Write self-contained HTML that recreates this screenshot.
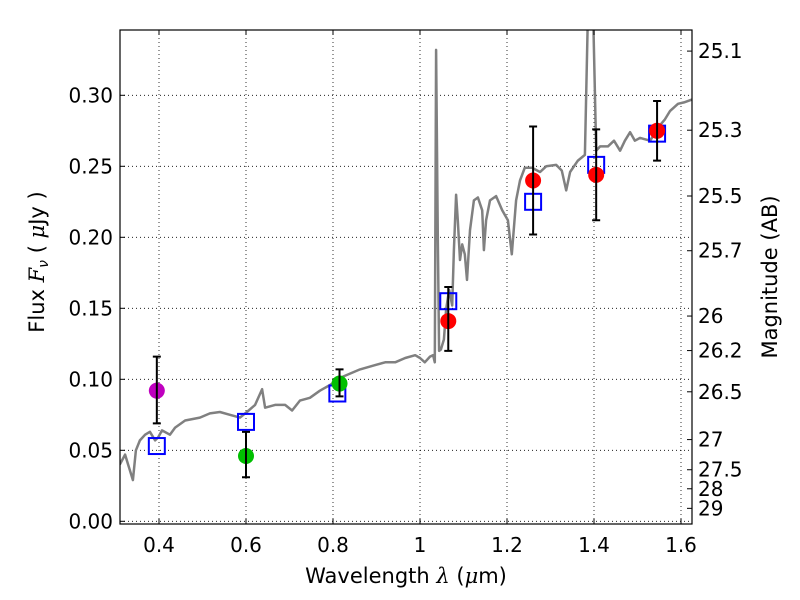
<!DOCTYPE html>
<html><head><meta charset="utf-8"><style>
body{margin:0;background:#fff}
svg{display:block;font-family:"DejaVu Sans","Liberation Sans",sans-serif}
</style></head><body>
<svg id="chart" width="800" height="600" viewBox="0 0 800 600">
<rect width="800" height="600" fill="#fff"/>
<defs><clipPath id="clip"><rect x="120" y="30" width="572" height="494"/></clipPath></defs>
<g id="grid"></g>
<g id="spec" clip-path="url(#clip)"></g>
<g id="marks"></g>
<rect x="120" y="30" width="572" height="494" fill="none" stroke="#000" stroke-width="1.2"/>
<g id="axes"></g>
<text x="406" y="583" font-size="21" text-anchor="middle">Wavelength  <tspan font-style="italic" font-family="DejaVu Serif,serif">λ</tspan> (<tspan font-style="italic" font-family="DejaVu Serif,serif">μ</tspan>m)</text>
<text transform="translate(44,262) rotate(-90)" font-size="21" text-anchor="middle">Flux  <tspan font-style="italic" font-family="DejaVu Serif,serif">F</tspan><tspan font-style="italic" font-size="14" dy="4">ν</tspan><tspan dy="-4">  ( </tspan><tspan font-style="italic" font-family="DejaVu Serif,serif">μ</tspan>Jy )</text>
<text transform="translate(777,277) rotate(-90)" font-size="21" text-anchor="middle">Magnitude (AB)</text>
</svg>
<script>
const xTicks=[0.4,0.6,0.8,1.0,1.2,1.4,1.6];
const xTickLabels=["0.4","0.6","0.8","1","1.2","1.4","1.6"];
const yTicks=[0,0.05,0.10,0.15,0.20,0.25,0.30];
const yTickLabels=["0.00","0.05","0.10","0.15","0.20","0.25","0.30"];
const magTicks=[25.1,25.3,25.5,25.7,26,26.2,26.5,27,27.5,28,29];
const magTickLabels=["25.1","25.3","25.5","25.7","26","26.2","26.5","27","27.5","28","29"];
const specWl=[0.310,0.322,0.329,0.340,0.347,0.356,0.368,0.379,0.391,0.398,0.407,0.425,0.437,0.460,0.494,0.517,0.540,0.563,0.586,0.602,0.621,0.637,0.644,0.667,0.690,0.706,0.724,0.747,0.770,0.793,0.816,0.839,0.862,0.897,0.920,0.943,0.966,0.989,1.000,1.011,1.023,1.030,1.034,1.037,1.041,1.044,1.048,1.055,1.060,1.067,1.074,1.078,1.083,1.087,1.092,1.097,1.103,1.108,1.115,1.124,1.133,1.143,1.147,1.152,1.161,1.175,1.189,1.202,1.211,1.221,1.230,1.241,1.257,1.276,1.290,1.313,1.326,1.336,1.345,1.363,1.379,1.389,1.395,1.405,1.414,1.432,1.446,1.460,1.471,1.483,1.494,1.506,1.529,1.552,1.563,1.575,1.593,1.607,1.625];
const specFlux=[0.040,0.047,0.040,0.029,0.050,0.057,0.061,0.063,0.057,0.059,0.064,0.061,0.066,0.071,0.073,0.076,0.077,0.075,0.073,0.077,0.082,0.093,0.080,0.082,0.082,0.078,0.085,0.087,0.092,0.096,0.101,0.104,0.107,0.110,0.112,0.112,0.115,0.117,0.115,0.112,0.116,0.117,0.112,0.332,0.200,0.120,0.121,0.128,0.149,0.163,0.152,0.191,0.230,0.212,0.184,0.195,0.188,0.170,0.205,0.226,0.228,0.219,0.191,0.212,0.226,0.229,0.219,0.212,0.188,0.226,0.240,0.249,0.249,0.246,0.250,0.251,0.247,0.233,0.246,0.254,0.258,0.400,0.400,0.261,0.264,0.264,0.268,0.261,0.268,0.274,0.268,0.270,0.268,0.279,0.283,0.289,0.294,0.295,0.297];
const modelWl=[0.395,0.600,0.810,1.065,1.260,1.405,1.545];
const modelFlux=[0.053,0.070,0.090,0.155,0.225,0.251,0.273];
const obsWl=[0.395,0.600,0.815,1.065,1.260,1.405,1.545];
const obsFlux=[0.092,0.046,0.097,0.141,0.240,0.244,0.275];
const obsLo=[0.069,0.031,0.088,0.120,0.202,0.212,0.254];
const obsHi=[0.116,0.063,0.107,0.165,0.278,0.276,0.296];
const obsColors=["#bf00bf","#00bf00","#00bf00","#ff0000","#ff0000","#ff0000","#ff0000"];

const NS="http://www.w3.org/2000/svg";
const X=v=>159+(v-0.4)*435;
const Y=v=>521.3-v*1420;
const magToFlux=m=>Math.pow(10,(23.9-m)/2.5);
function el(tag,attrs,parent,txt){const e=document.createElementNS(NS,tag);for(const k in attrs)e.setAttribute(k,attrs[k]);if(txt!==undefined)e.textContent=txt;parent.appendChild(e);return e;}
const grid=document.getElementById('grid'),axes=document.getElementById('axes'),spec=document.getElementById('spec'),marks=document.getElementById('marks');

xTicks.forEach((t,i)=>{
  const x=X(t);
  const g=el('line',{x1:x,x2:x,y1:30,y2:524,stroke:'#000','stroke-width':0.8,'stroke-dasharray':'1,3'},grid);
  
  
  const tk=el('path',{d:`M${x},524v-5M${x},30v5`,stroke:'#000','stroke-width':1},axes);
  
  
  const lb=el('text',{x:x,y:552,'font-size':20,'text-anchor':'middle'},axes,xTickLabels[i]);
  
  
});
yTicks.forEach((t,i)=>{
  const y=Y(t);
  const g=el('line',{x1:120,x2:692,y1:y,y2:y,stroke:'#000','stroke-width':0.8,'stroke-dasharray':'1,3'},grid);
  
  
  const tk=el('path',{d:`M120,${y}h5`,stroke:'#000','stroke-width':1},axes);
  
  
  const lb=el('text',{x:113,y:y+7,'font-size':20,'text-anchor':'end'},axes,yTickLabels[i]);
  
  
});
magTicks.forEach((m,i)=>{
  const y=Y(magToFlux(m));
  const tk=el('path',{d:`M692,${y}h-5`,stroke:'#000','stroke-width':1},axes);
  
  
  const lb=el('text',{x:698,y:y+7,'font-size':20,'text-anchor':'start'},axes,magTickLabels[i]);
  
  
});
const pts=specWl.map((w,i)=>X(w).toFixed(1)+','+Y(specFlux[i]).toFixed(1)).join(' ');
const pl=el('polyline',{points:pts,fill:'none',stroke:'#808080','stroke-width':2.5,'stroke-linejoin':'round'},spec);


modelWl.forEach((w,i)=>{
  const r=el('rect',{x:X(w)-8,y:Y(modelFlux[i])-8,width:16,height:16,fill:'none',stroke:'#0000ff','stroke-width':2},marks);
  
  
});
obsWl.forEach((w,i)=>{
  const x=X(w);
  const c=el('circle',{cx:x,cy:Y(obsFlux[i]),r:8,fill:obsColors[i]},marks);
  
  
  const e=el('path',{d:`M${x},${Y(obsLo[i])}V${Y(obsHi[i])}M${x-4},${Y(obsLo[i])}h8M${x-4},${Y(obsHi[i])}h8`,stroke:'#000','stroke-width':2},marks);
  
  
});
</script>
</body></html>
